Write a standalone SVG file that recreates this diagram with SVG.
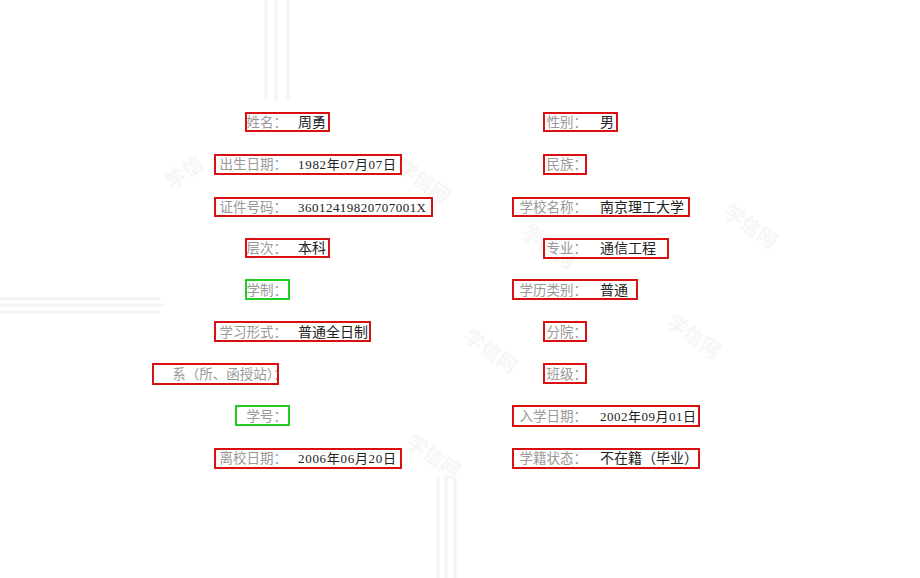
<svg xmlns="http://www.w3.org/2000/svg" width="920" height="578" viewBox="0 0 920 578">
<style>
.lb{font-family:"Noto Sans CJK SC","Liberation Sans",sans-serif;font-size:13.5px;fill:#999;text-anchor:end}
.vl{font-family:"Liberation Serif","Noto Sans CJK SC",serif;font-size:13px;fill:#222;text-anchor:start}
.cv{font-family:"Noto Sans CJK SC","Liberation Sans",sans-serif;font-size:14px;fill:#222}
.r{fill:none;stroke:#d81010;stroke-width:2}
.g{fill:none;stroke:#22cc22;stroke-width:2}
.wm{font-family:"Noto Sans CJK SC",sans-serif;font-size:20px;font-weight:bold;fill:#f6f6f6}
.st{stroke:#f4f4f4;stroke-width:3}
</style>
<rect width="920" height="578" fill="#fff"/>
<g id="background">
<line class="st" x1="266" y1="0" x2="266" y2="100"/><line class="st" x1="276" y1="0" x2="276" y2="102"/><line class="st" x1="288" y1="0" x2="288" y2="100"/>
<line class="st" x1="0" y1="299" x2="160" y2="299"/><line class="st" x1="0" y1="305" x2="165" y2="305"/><line class="st" x1="0" y1="312" x2="160" y2="312"/>
<line class="st" x1="438" y1="478" x2="438" y2="578"/><line class="st" x1="446" y1="476" x2="446" y2="578"/><line class="st" x1="455" y1="478" x2="455" y2="578"/>
<text class="wm" transform="translate(172,190) rotate(-35)">学信</text>
<text class="wm" transform="translate(395,170) rotate(35)">学信网</text>
<text class="wm" transform="translate(520,235) rotate(35)">学信网</text>
<text class="wm" transform="translate(722,215) rotate(35)">学信网</text>
<text class="wm" transform="translate(665,325) rotate(35)">学信网</text>
<text class="wm" transform="translate(462,340) rotate(35)">学信网</text>
<text class="wm" transform="translate(405,445) rotate(35)">学信网</text>
</g>
<g id="n1"><text class="lb" x="287" y="127">姓名：</text><text class="cv" x="298" y="127">周勇</text><rect class="r" x="246" y="113" width="83" height="18"/></g>
<g id="n2"><text class="lb" x="287" y="169">出生日期：</text><text class="vl" x="298" y="169" textLength="98">1982年07月07日</text><rect class="r" x="215" y="155" width="186" height="19"/></g>
<g id="n3"><text class="lb" x="287" y="212">证件号码：</text><text class="vl" x="298" y="212" textLength="128">36012419820707001X</text><rect class="r" x="215" y="198" width="217" height="18"/></g>
<g id="n4"><text class="lb" x="287" y="253">层次：</text><text class="cv" x="298" y="253">本科</text><rect class="r" x="246" y="239" width="83" height="18"/></g>
<g id="n5"><text class="lb" x="287" y="295">学制：</text><rect class="g" x="246" y="280" width="43" height="19"/></g>
<g id="n6"><text class="lb" x="287" y="337">学习形式：</text><text class="cv" x="298" y="337">普通全日制</text><rect class="r" x="215" y="322" width="155" height="19"/></g>
<g id="n7"><text class="lb" x="287" y="379">系（所、函授站）：</text><rect class="r" x="153" y="364" width="125" height="20"/></g>
<g id="n8"><text class="lb" x="287" y="421">学号：</text><rect class="g" x="236" y="406" width="53" height="19"/></g>
<g id="n9"><text class="lb" x="287" y="463">离校日期：</text><text class="vl" x="298" y="463" textLength="98">2006年06月20日</text><rect class="r" x="215" y="449" width="186" height="19"/></g>
<g id="m1"><text class="lb" x="587" y="127">性别：</text><text class="cv" x="600" y="127">男</text><rect class="r" x="544" y="113" width="73" height="18"/></g>
<g id="m2"><text class="lb" x="587" y="169">民族：</text><rect class="r" x="544" y="155" width="42" height="19"/></g>
<g id="m3"><text class="lb" x="587" y="212">学校名称：</text><text class="cv" x="600" y="212">南京理工大学</text><rect class="r" x="513" y="198" width="176" height="18"/></g>
<g id="m4"><text class="lb" x="587" y="253">专业：</text><text class="cv" x="600" y="253">通信工程</text><rect class="r" x="544" y="239" width="124" height="19"/></g>
<g id="m5"><text class="lb" x="587" y="295">学历类别：</text><text class="cv" x="600" y="295">普通</text><rect class="r" x="513" y="280" width="124" height="19"/></g>
<g id="m6"><text class="lb" x="587" y="337">分院：</text><rect class="r" x="544" y="322" width="42" height="19"/></g>
<g id="m7"><text class="lb" x="587" y="379">班级：</text><rect class="r" x="544" y="364" width="42" height="19"/></g>
<g id="m8"><text class="lb" x="587" y="421">入学日期：</text><text class="vl" x="600" y="421" textLength="96">2002年09月01日</text><rect class="r" x="513" y="406" width="186" height="20"/></g>
<g id="m9"><text class="lb" x="587" y="463">学籍状态：</text><text class="cv" x="600" y="463">不在籍（毕业）</text><rect class="r" x="513" y="449" width="186" height="19"/></g>
</svg>
